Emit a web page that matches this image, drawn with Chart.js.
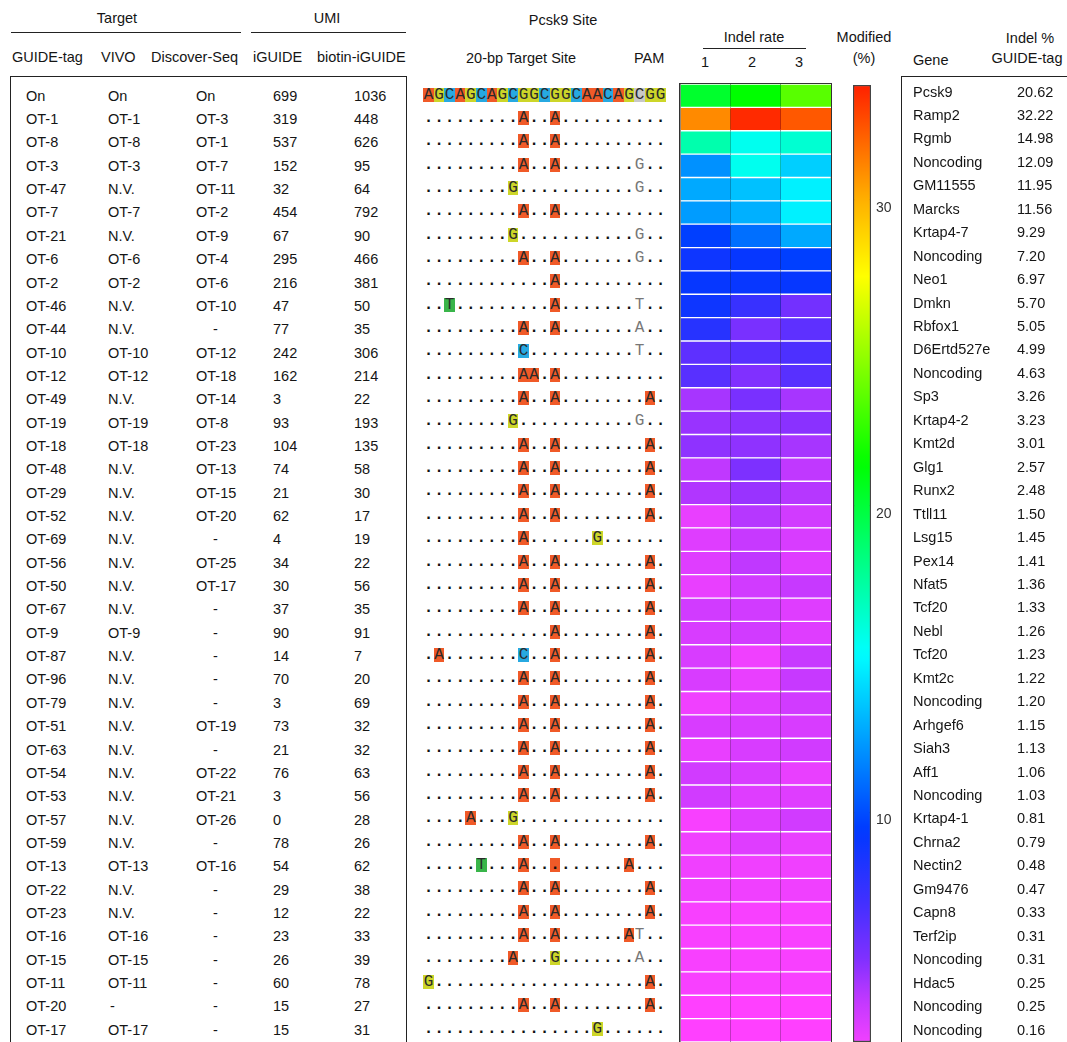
<!DOCTYPE html>
<html>
<head>
<meta charset="utf-8">
<script src="https://cdn.jsdelivr.net/npm/chart.js@4.4.1/dist/chart.umd.min.js"></script>
<style>
  html, body { margin: 0; padding: 0; background: #fff; }
  #fig { position: relative; width: 1067px; height: 1042px; overflow: hidden; font-family: "Liberation Sans", Arial, sans-serif; font-size: 14.5px; color: #151515; }
  .t { position: absolute; white-space: nowrap; line-height: 16px; }
  .box { position: absolute; border: 1px solid #222; border-bottom: none; }
  .rule { position: absolute; height: 0; border-top: 1px solid #222; }
  .seq { position: absolute; display: flex; height: 14px; font-family: "Liberation Mono", monospace; font-size: 16px; line-height: 15px; color: #2a2a2a; }
  .seq span { display: block; width: 10.55px; height: 14px; text-align: center; }
  .seq span.dot { font-weight: bold; color: #111; }
  #heatWrap { position: absolute; left: 679px; top: 82.5px; width: 151px; height: 980px; border: 1.5px solid #333; border-bottom: none; }
  #heatWrap canvas { display: block; }
</style>
</head>
<body>
<div id="fig">
  <div id="heatWrap"><canvas id="heat" width="151" height="958"></canvas></div>
  <canvas id="bar" width="50" height="957" style="position:absolute;left:853px;top:85px"></canvas>
</div>
<script>
// Off-target table (left)
const guideTag = ['On','OT-1','OT-8','OT-3','OT-47','OT-7','OT-21','OT-6','OT-2','OT-46','OT-44','OT-10','OT-12','OT-49','OT-19','OT-18','OT-48','OT-29','OT-52','OT-69','OT-56','OT-50','OT-67','OT-9','OT-87','OT-96','OT-79','OT-51','OT-63','OT-54','OT-53','OT-57','OT-59','OT-13','OT-22','OT-23','OT-16','OT-15','OT-11','OT-20','OT-17'];
const vivo = ['On','OT-1','OT-8','OT-3','N.V.','OT-7','N.V.','OT-6','OT-2','N.V.','N.V.','OT-10','OT-12','N.V.','OT-19','OT-18','N.V.','N.V.','N.V.','N.V.','N.V.','N.V.','N.V.','OT-9','N.V.','N.V.','N.V.','N.V.','N.V.','N.V.','N.V.','N.V.','N.V.','OT-13','N.V.','N.V.','OT-16','OT-15','OT-11','-','OT-17'];
const discoverSeq = ['On','OT-3','OT-1','OT-7','OT-11','OT-2','OT-9','OT-4','OT-6','OT-10','-','OT-12','OT-18','OT-14','OT-8','OT-23','OT-13','OT-15','OT-20','-','OT-25','OT-17','-','-','-','-','-','OT-19','-','OT-22','OT-21','OT-26','-','OT-16','-','-','-','-','-','-','-'];
const iguideUmi = [699,319,537,152,32,454,67,295,216,47,77,242,162,3,93,104,74,21,62,4,34,30,37,90,14,70,3,73,21,76,3,0,78,54,29,12,23,26,60,15,15];
const biotinUmi = [1036,448,626,95,64,792,90,466,381,50,35,306,214,22,193,135,58,30,17,19,22,56,35,91,7,20,69,32,32,63,56,28,26,62,38,22,33,39,78,27,31];

// Pcsk9 site: target + PAM, then mismatches ('.' = match, '*' = marked match)
const refSite = 'AGCAGCAGCGGCGGCAACAGCGG';
const offSites = [
  '.........A..A..........',
  '.........A..A..........',
  '.........A..A.......G..',
  '........G...........G..',
  '.........A..A..........',
  '........G...........G..',
  '.........A..A.......G..',
  '............A..........',
  '..T.........A.......T..',
  '.........A..A.......A..',
  '.........C..........T..',
  '.........AA.A..........',
  '.........A..A........A.',
  '........G...........G..',
  '.........A..A........A.',
  '.........A..A........A.',
  '.........A..A........A.',
  '.........A..A........A.',
  '.........A......G......',
  '.........A..A........A.',
  '.........A..A........A.',
  '.........A..A........A.',
  '............A........A.',
  '.A.......C..A........A.',
  '.........A..A........A.',
  '.........A..A........A.',
  '.........A..A........A.',
  '.........A..A........A.',
  '.........A..A........A.',
  '.........A..A........A.',
  '....A...G..............',
  '.........A..A........A.',
  '.....T...A..*......A...',
  '.........A..A........A.',
  '.........A..A........A.',
  '.........A..A......AT..',
  '........A...G.......A..',
  'G....................A.',
  '.........A..A........A.',
  '................G......'
];

// Indel rate heatmap, three replicates (%)
const rep1 = [20.3,31.0,17.2,12.0,12.7,12.3,9.6,8.9,9.2,8.9,8.0,6.2,6.4,4.4,4.7,4.9,3.9,4.2,2.7,3.0,3.0,2.7,3.4,3.2,3.2,3.2,2.5,3.2,2.7,3.4,3.4,2.25,2.5,2.5,2.5,2.25,2.25,2.25,2.25,2.0,2.0];
const rep2 = [21.4,33.5,15.6,15.6,13.4,12.9,11.0,9.2,9.1,7.4,5.4,6.4,5.2,5.4,4.95,4.9,5.3,4.7,4.1,3.7,3.9,3.4,3.4,3.4,2.5,2.7,3.0,3.2,3.2,3.2,3.0,3.0,3.0,2.5,2.5,2.25,2.25,2.25,2.25,2.0,2.0];
const rep3 = [23.5,32.3,16.3,13.8,14.8,14.8,12.7,9.6,9.2,5.6,6.2,6.7,6.4,4.4,5.0,4.4,3.9,4.1,3.4,3.2,3.0,3.7,3.0,3.0,3.7,3.7,3.4,3.2,3.4,2.7,3.0,3.4,2.7,2.5,2.5,2.25,2.25,2.25,2.25,2.0,2.0];
const replicateLabels = ['1', '2', '3'];

// colour bar
const barTicks = [10, 20, 30];
const colorMin = 2.5, colorMax = 33.75;
const colorStops = [[33.75,'#ff2000'],[30,'#ffb000'],[27.5,'#ffff00'],[21.4,'#00ff00'],[15.2,'#00ffff'],[9.4,'#0038ff'],[7.1,'#4030ff'],[5.2,'#8030ff'],[3.9,'#c038ff'],[2.5,'#f040ff'],[2.0,'#ff40ff']];

// Gene table (right)
const genes = ['Pcsk9','Ramp2','Rgmb','Noncoding','GM11555','Marcks','Krtap4-7','Noncoding','Neo1','Dmkn','Rbfox1','D6Ertd527e','Noncoding','Sp3','Krtap4-2','Kmt2d','Glg1','Runx2','Ttll11','Lsg15','Pex14','Nfat5','Tcf20','Nebl','Tcf20','Kmt2c','Noncoding','Arhgef6','Siah3','Aff1','Noncoding','Krtap4-1','Chrna2','Nectin2','Gm9476','Capn8','Terf2ip','Noncoding','Hdac5','Noncoding','Noncoding'];
const indelGuideTag = ['20.62','32.22','14.98','12.09','11.95','11.56','9.29','7.20','6.97','5.70','5.05','4.99','4.63','3.26','3.23','3.01','2.57','2.48','1.50','1.45','1.41','1.36','1.33','1.26','1.23','1.22','1.20','1.15','1.13','1.06','1.03','0.81','0.79','0.48','0.47','0.33','0.31','0.31','0.25','0.25','0.16'];

const baseColors = { A: '#f05a28', G: '#cdd629', C: '#27a9e1', T: '#39b54a', N: '#c8c8c8' };

function hexToRgb(h) {
  return [parseInt(h.slice(1, 3), 16), parseInt(h.slice(3, 5), 16), parseInt(h.slice(5, 7), 16)];
}
function colorFor(v) {
  if (v >= colorStops[0][0]) return colorStops[0][1];
  for (let i = 1; i < colorStops.length; i++) {
    const [v1, c1] = colorStops[i - 1];
    const [v2, c2] = colorStops[i];
    if (v >= v2) {
      const t = (v1 - v) / (v1 - v2);
      const a = hexToRgb(c1), b = hexToRgb(c2);
      const m = a.map((x, k) => Math.round(x + (b[k] - x) * t));
      return 'rgb(' + m.join(',') + ')';
    }
  }
  return colorStops[colorStops.length - 1][1];
}

const fig = document.getElementById('fig');
function text(str, x, y, align) {
  const d = document.createElement('div');
  d.className = 't';
  d.textContent = str;
  d.style.left = x + 'px';
  d.style.top = (y - 8) + 'px';
  if (align === 'center') d.style.transform = 'translateX(-50%)';
  fig.appendChild(d);
  return d;
}
function rule(x1, x2, y) {
  const d = document.createElement('div');
  d.className = 'rule';
  d.style.left = x1 + 'px';
  d.style.width = (x2 - x1) + 'px';
  d.style.top = y + 'px';
  fig.appendChild(d);
}
function box(x, y, w, h) {
  const d = document.createElement('div');
  d.className = 'box';
  Object.assign(d.style, { left: x + 'px', top: y + 'px', width: w + 'px', height: h + 'px' });
  fig.appendChild(d);
}

// headers
text('Target', 117, 18, 'center');
rule(11, 241, 32);
text('UMI', 327, 18, 'center');
rule(251, 406, 32);
text('GUIDE-tag', 12, 57);
text('VIVO', 101, 57);
text('Discover-Seq', 151, 57);
text('iGUIDE', 253, 57);
text('biotin-iGUIDE', 317, 57);
text('Pcsk9 Site', 563, 20, 'center');
text('20-bp Target Site', 466, 58);
text('PAM', 634, 58);
text('Indel rate', 754, 37, 'center');
rule(703, 806, 48);
text('1', 705, 62, 'center');
text('2', 752, 62, 'center');
text('3', 799, 62, 'center');
text('Modified', 864, 37, 'center');
text('(%)', 864, 58, 'center');
text('Gene', 913, 60);
text('Indel %', 1030, 38, 'center');
text('GUIDE-tag', 1027, 58, 'center');

box(10, 76, 395, 1000);
box(901, 76, 200, 1000);

// left table rows
const rowY = i => 95.7 + i * 23.35;
const leftCols = [guideTag, vivo, discoverSeq, iguideUmi, biotinUmi];
const leftX = [26, 108, 196, 273, 354];
const dashX = [26, 110, 213, 273, 354];
guideTag.forEach((_, i) => {
  leftCols.forEach((col, c) => {
    const s = String(col[i]);
    text(s, s === '-' ? dashX[c] : leftX[c], rowY(i));
  });
});

// sequence column
function seqRow(chars, i, isRef) {
  const row = document.createElement('div');
  row.className = 'seq';
  row.style.left = '423.3px';
  row.style.top = (94.5 + i * 23.35 - 7) + 'px';
  chars.split('').forEach((ch, k) => {
    const sp = document.createElement('span');
    if (isRef) {
      sp.textContent = ch;
      sp.style.background = k === 20 ? baseColors.N : baseColors[ch];
    } else if (ch === '.') {
      sp.textContent = '.';
      sp.className = 'dot';
    } else if (ch === '*') {
      sp.textContent = '.';
      sp.className = 'dot';
      sp.style.background = baseColors.A;
    } else if (k === 20) {
      sp.textContent = ch;
      sp.style.color = '#777';
    } else {
      sp.textContent = ch;
      sp.style.background = baseColors[ch];
    }
    row.appendChild(sp);
  });
  fig.appendChild(row);
}
seqRow(refSite, 0, true);
offSites.forEach((s, i) => seqRow(s, i + 1, false));

// right table rows
genes.forEach((g, i) => {
  const y = 91.5 + i * 23.45;
  text(g, 913, y);
  text(indelGuideTag[i], 1017, y);
});

// heatmap
new Chart(document.getElementById('heat'), {
  type: 'bar',
  data: {
    labels: guideTag,
    datasets: [rep1, rep2, rep3].map((vals, k) => ({
      label: 'Replicate ' + replicateLabels[k],
      data: vals.map(() => 1),
      backgroundColor: vals.map(colorFor),
      borderColor: '#ffffff',
      borderWidth: { top: 1, bottom: 1, left: 0, right: 0 },
      borderSkipped: false,
      barPercentage: 1,
      categoryPercentage: 1
    }))
  },
  options: {
    indexAxis: 'y',
    responsive: false,
    animation: false,
    layout: { padding: 0 },
    scales: {
      x: {
        stacked: true, min: 0, max: 3, z: 1,
        ticks: { display: false, stepSize: 1 },
        grid: { color: '#111', lineWidth: 1.5, drawTicks: false },
        border: { display: false }
      },
      y: { stacked: true, display: false }
    },
    plugins: { legend: { display: false }, tooltip: { enabled: false } }
  }
});

// colour bar
new Chart(document.getElementById('bar'), {
  type: 'bar',
  data: {
    labels: ['Modified (%)'],
    datasets: [{
      data: [[colorMin, colorMax]],
      backgroundColor: (c) => {
        const chart = c.chart;
        if (!chart.chartArea) return colorFor((colorMin + colorMax) / 2);
        const ys = chart.scales.y;
        const g = chart.ctx.createLinearGradient(0, ys.getPixelForValue(colorMax), 0, ys.getPixelForValue(colorMin));
        const n = 80;
        for (let i = 0; i <= n; i++) {
          g.addColorStop(i / n, colorFor(colorMax - (colorMax - colorMin) * i / n));
        }
        return g;
      },
      borderColor: '#444',
      borderWidth: 1.5,
      borderSkipped: false,
      barPercentage: 1,
      categoryPercentage: 1
    }]
  },
  options: {
    responsive: false,
    animation: false,
    layout: { padding: 0 },
    scales: {
      x: { display: false },
      y: {
        position: 'right', min: colorMin, max: colorMax, z: 1,
        afterBuildTicks: axis => { axis.ticks = barTicks.map(v => ({ value: v })); },
        afterFit: axis => { axis.width = 32; axis.paddingTop = 0; axis.paddingBottom = 0; },
        ticks: { color: '#333', font: { family: 'Liberation Sans', size: 14 }, padding: 5, labelOffset: 8 },
        grid: { color: '#111', lineWidth: 1.2, drawTicks: false },
        border: { display: false, dash: [3, 12] }
      }
    },
    plugins: { legend: { display: false }, tooltip: { enabled: false } }
  }
});
</script>
</body>
</html>
